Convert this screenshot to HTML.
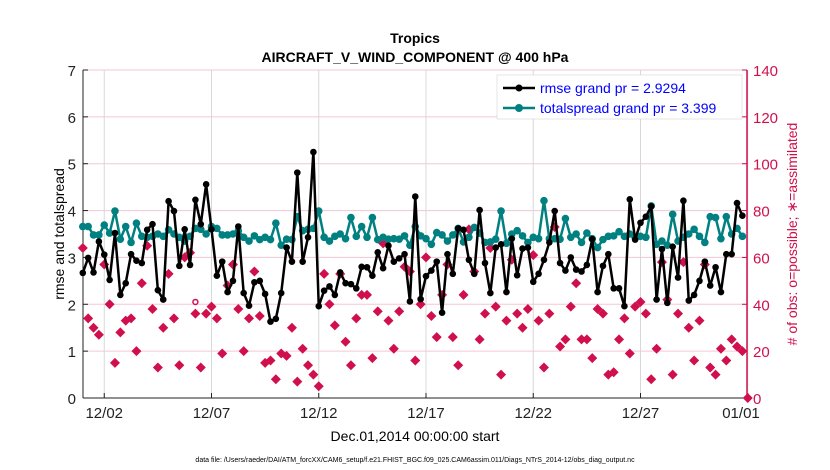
<!DOCTYPE html>
<html><head><meta charset="utf-8"><style>
body{margin:0;background:#fff;font-family:"Liberation Sans",sans-serif}
svg{display:block}
</style></head><body>
<svg id="chart" width="830" height="470" xmlns="http://www.w3.org/2000/svg">
<text x="415" y="43" text-anchor="middle" font-size="14" font-weight="bold">Tropics</text>
<text x="415" y="62" text-anchor="middle" font-size="14" font-weight="bold">AIRCRAFT_V_WIND_COMPONENT @ 400 hPa</text>
<g id="grid"></g>
<g id="axes"></g>
<g id="series"></g>
<text transform="translate(64,234) rotate(-90)" text-anchor="middle" font-size="14">rmse and totalspread</text>
<text transform="translate(797,234) rotate(-90)" text-anchor="middle" font-size="14" fill="#d0104c"># of obs: o=possible; ∗=assimilated</text>
<text x="415" y="441" text-anchor="middle" font-size="14">Dec.01,2014 00:00:00 start</text>
<text x="415" y="462" text-anchor="middle" font-size="7">data file: /Users/raeder/DAI/ATM_forcXX/CAM6_setup/f.e21.FHIST_BGC.f09_025.CAM6assim.011/Diags_NTrS_2014-12/obs_diag_output.nc</text>
<g>
<rect x="497" y="75" width="245" height="44" fill="#fff" stroke="#ccc" stroke-width="0.5"/>
<g>
<line x1="503" y1="88" x2="535" y2="88" stroke="#000" stroke-width="2.5"/><circle cx="519" cy="88" r="3.5" fill="#000"/>
<text x="540" y="93" font-size="14" fill="#0000ff">rmse grand pr = 2.9294</text></g>
<g>
<line x1="503" y1="108" x2="535" y2="108" stroke="#008080" stroke-width="2.5"/><circle cx="519" cy="108" r="4" fill="#008080"/>
<text x="540" y="113" font-size="14" fill="#0000ff">totalspread grand pr = 3.399</text></g>
</g>
</svg>
<script>
const rmse=[2.67,2.99,2.68,3.34,3.06,2.52,3.52,2.2,2.45,3.07,2.93,2.88,3.59,3.71,2.3,2.1,4.2,3.99,2.82,3.6,2.84,4.23,3.71,4.56,3.6,2.61,2.91,2.26,2.5,3.66,2.24,1.97,2.47,2.5,2.22,1.63,1.69,2.24,3.21,2.91,
4.81,2.91,3.43,5.25,1.96,2.29,2.38,2.2,2.68,2.45,2.43,2.34,2.8,2.79,2.61,3.11,2.77,3.25,2.91,2.98,3.07,2.06,4.3,2.11,2.6,2.72,2.91,1.82,3.07,2.65,3.62,3.59,2.95,2.65,4.01,2.88,2.24,3.21,3.28,2.26,3.4,
2.62,3.19,3.21,2.48,2.65,2.95,3.32,3.99,2.88,2.72,3.0,2.74,2.7,2.84,3.39,2.26,2.82,3.07,2.34,2.34,1.96,4.24,3.38,3.74,3.87,4.09,2.1,3.18,2.03,3.23,2.57,4.21,2.08,2.2,2.5,2.91,2.4,2.79,2.26,3.07,3.07,4.16,3.89];
const spread=[3.66,3.66,3.48,3.48,3.69,3.52,3.99,3.39,3.66,3.32,3.73,3.45,3.43,3.45,3.5,3.45,3.59,3.5,3.43,3.35,3.45,3.62,3.6,3.5,3.66,3.62,3.48,3.48,3.5,3.57,3.43,3.35,3.46,3.38,3.43,3.38,3.73,3.26,3.39,3.38,
3.87,3.57,3.6,3.62,3.99,3.43,3.35,3.45,3.5,3.4,3.85,3.45,3.66,3.43,3.85,3.38,3.43,3.39,3.4,3.39,3.46,3.26,3.66,3.46,3.4,3.28,3.53,3.48,3.35,3.48,3.62,3.33,3.43,3.64,3.52,3.32,3.33,3.39,3.99,3.3,3.5,
3.57,3.46,3.32,3.43,3.4,4.21,3.4,3.4,3.39,3.83,3.43,3.5,3.32,3.52,3.4,3.21,3.38,3.45,3.46,3.55,3.45,3.5,3.43,3.45,3.43,4.1,3.28,3.35,3.26,3.92,3.35,3.43,3.5,3.6,3.45,3.32,3.87,3.85,3.4,3.87,3.5,3.62,3.45];
const nobs=[64,34,30,27,57,40,15,28,33,34,20,49,65,38,13,30,53,34,14,60,62,36,13,36,39,34,19,48,57,38,20,34,54,35,15,16,8,19,18,30,
7,21,14,10,5,53,40,31,53,24,14,34,44,44,17,37,66,33,21,37,56,54,16,40,60,35,26,44,57,26,14,44,72,54,25,36,64,39,10,33,59,
36,30,38,61,33,13,36,73,22,25,39,49,25,25,17,38,36,10,11,25,34,19,39,41,36,8,21,58,42,10,36,58,30,16,33,57,13,10,21,16,25,22,20,0];
const possibleIdx=[21];
const possibleVal=[41];
const yTicks=[0,1,2,3,4,5,6,7];
const y2Ticks=[0,20,40,60,80,100,120,140];
const xTickDays=[1,6,11,16,21,26,31];
const xTickLabels=["12/02","12/07","12/12","12/17","12/22","12/27","01/01"];

const NS="http://www.w3.org/2000/svg";
const L=83,R=747,T=70,B=398;
const xDay=d=>82.8+d*21.45;
const xIdx=i=>xDay(i*0.25);
const y=v=>B-(v/7)*(B-T);
const y2=v=>B-(v/140)*(B-T);
function mk(tag,attrs,parent,text){const e=document.createElementNS(NS,tag);for(const k in attrs)e.setAttribute(k,attrs[k]);if(text!==undefined)e.textContent=text;parent.appendChild(e);return e;}
const grid=document.getElementById('grid'),axes=document.getElementById('axes'),series=document.getElementById('series');
yTicks.forEach(t=>{
  if(t>0){const g=mk('line',{x1:L,x2:R,y1:y(t),y2:y(t),stroke:'#f3c6d6','stroke-width':1},grid);
  
  }
  const tk=mk('line',{x1:L,x2:L+5,y1:y(t),y2:y(t),stroke:'#222'},axes);
  const lb=mk('text',{x:L-7,y:y(t)+6,'text-anchor':'end','font-size':15,fill:'#222'},axes,String(t));
  
  
});
y2Ticks.forEach(t=>{
  mk('line',{x1:R-5,x2:R,y1:y2(t),y2:y2(t),stroke:'#d0104c'},axes);
  const lb=mk('text',{x:R+6,y:y2(t)+6,'font-size':15,fill:'#d0104c'},axes,String(t));
  
  
});
xTickDays.forEach((d,i)=>{
  const g=mk('line',{x1:xDay(d),x2:xDay(d),y1:T,y2:B,stroke:'#d8d8d8'},grid);
  
  
  mk('line',{x1:xDay(d),x2:xDay(d),y1:B-5,y2:B,stroke:'#222'},axes);
  const lb=mk('text',{x:Math.min(xDay(d),741),y:B+20,'text-anchor':'middle','font-size':15,fill:'#222'},axes,xTickLabels[i]);
  
  
});
const la=mk('line',{x1:L,x2:L,y1:T,y2:B,stroke:'#222'},axes);


const ba=mk('line',{x1:L,x2:R,y1:B,y2:B,stroke:'#222'},axes);


const ra=mk('line',{x1:R,x2:R,y1:T,y2:B,stroke:'#d0104c','stroke-width':1.5},axes);



nobs.forEach((v,i)=>{
  const cx=xIdx(i),cy=y2(v);
  const d=mk('path',{d:`M${cx},${cy-5}L${cx+5},${cy}L${cx},${cy+5}L${cx-5},${cy}Z`,fill:'#d0104c'},series);
  
  
});
possibleIdx.forEach((idx,k)=>{
  const c=mk('circle',{cx:xIdx(idx),cy:y2(possibleVal[k]),r:2.5,fill:'none',stroke:'#d0104c','stroke-width':1.5},series);
  
  
});
function line(arr,color,r,name){
  const p=mk('polyline',{points:arr.map((v,i)=>xIdx(i)+','+y(v)).join(' '),fill:'none',stroke:color,'stroke-width':2.5,'stroke-linejoin':'round'},series);
  
  
  arr.forEach((v,i)=>{
    const c=mk('circle',{cx:xIdx(i),cy:y(v),r:r,fill:color},series);
    
    
  });
}
line(spread,'#008080',3.8,'totalspread');
line(rmse,'#000',3.3,'rmse');
</script>
</body></html>
